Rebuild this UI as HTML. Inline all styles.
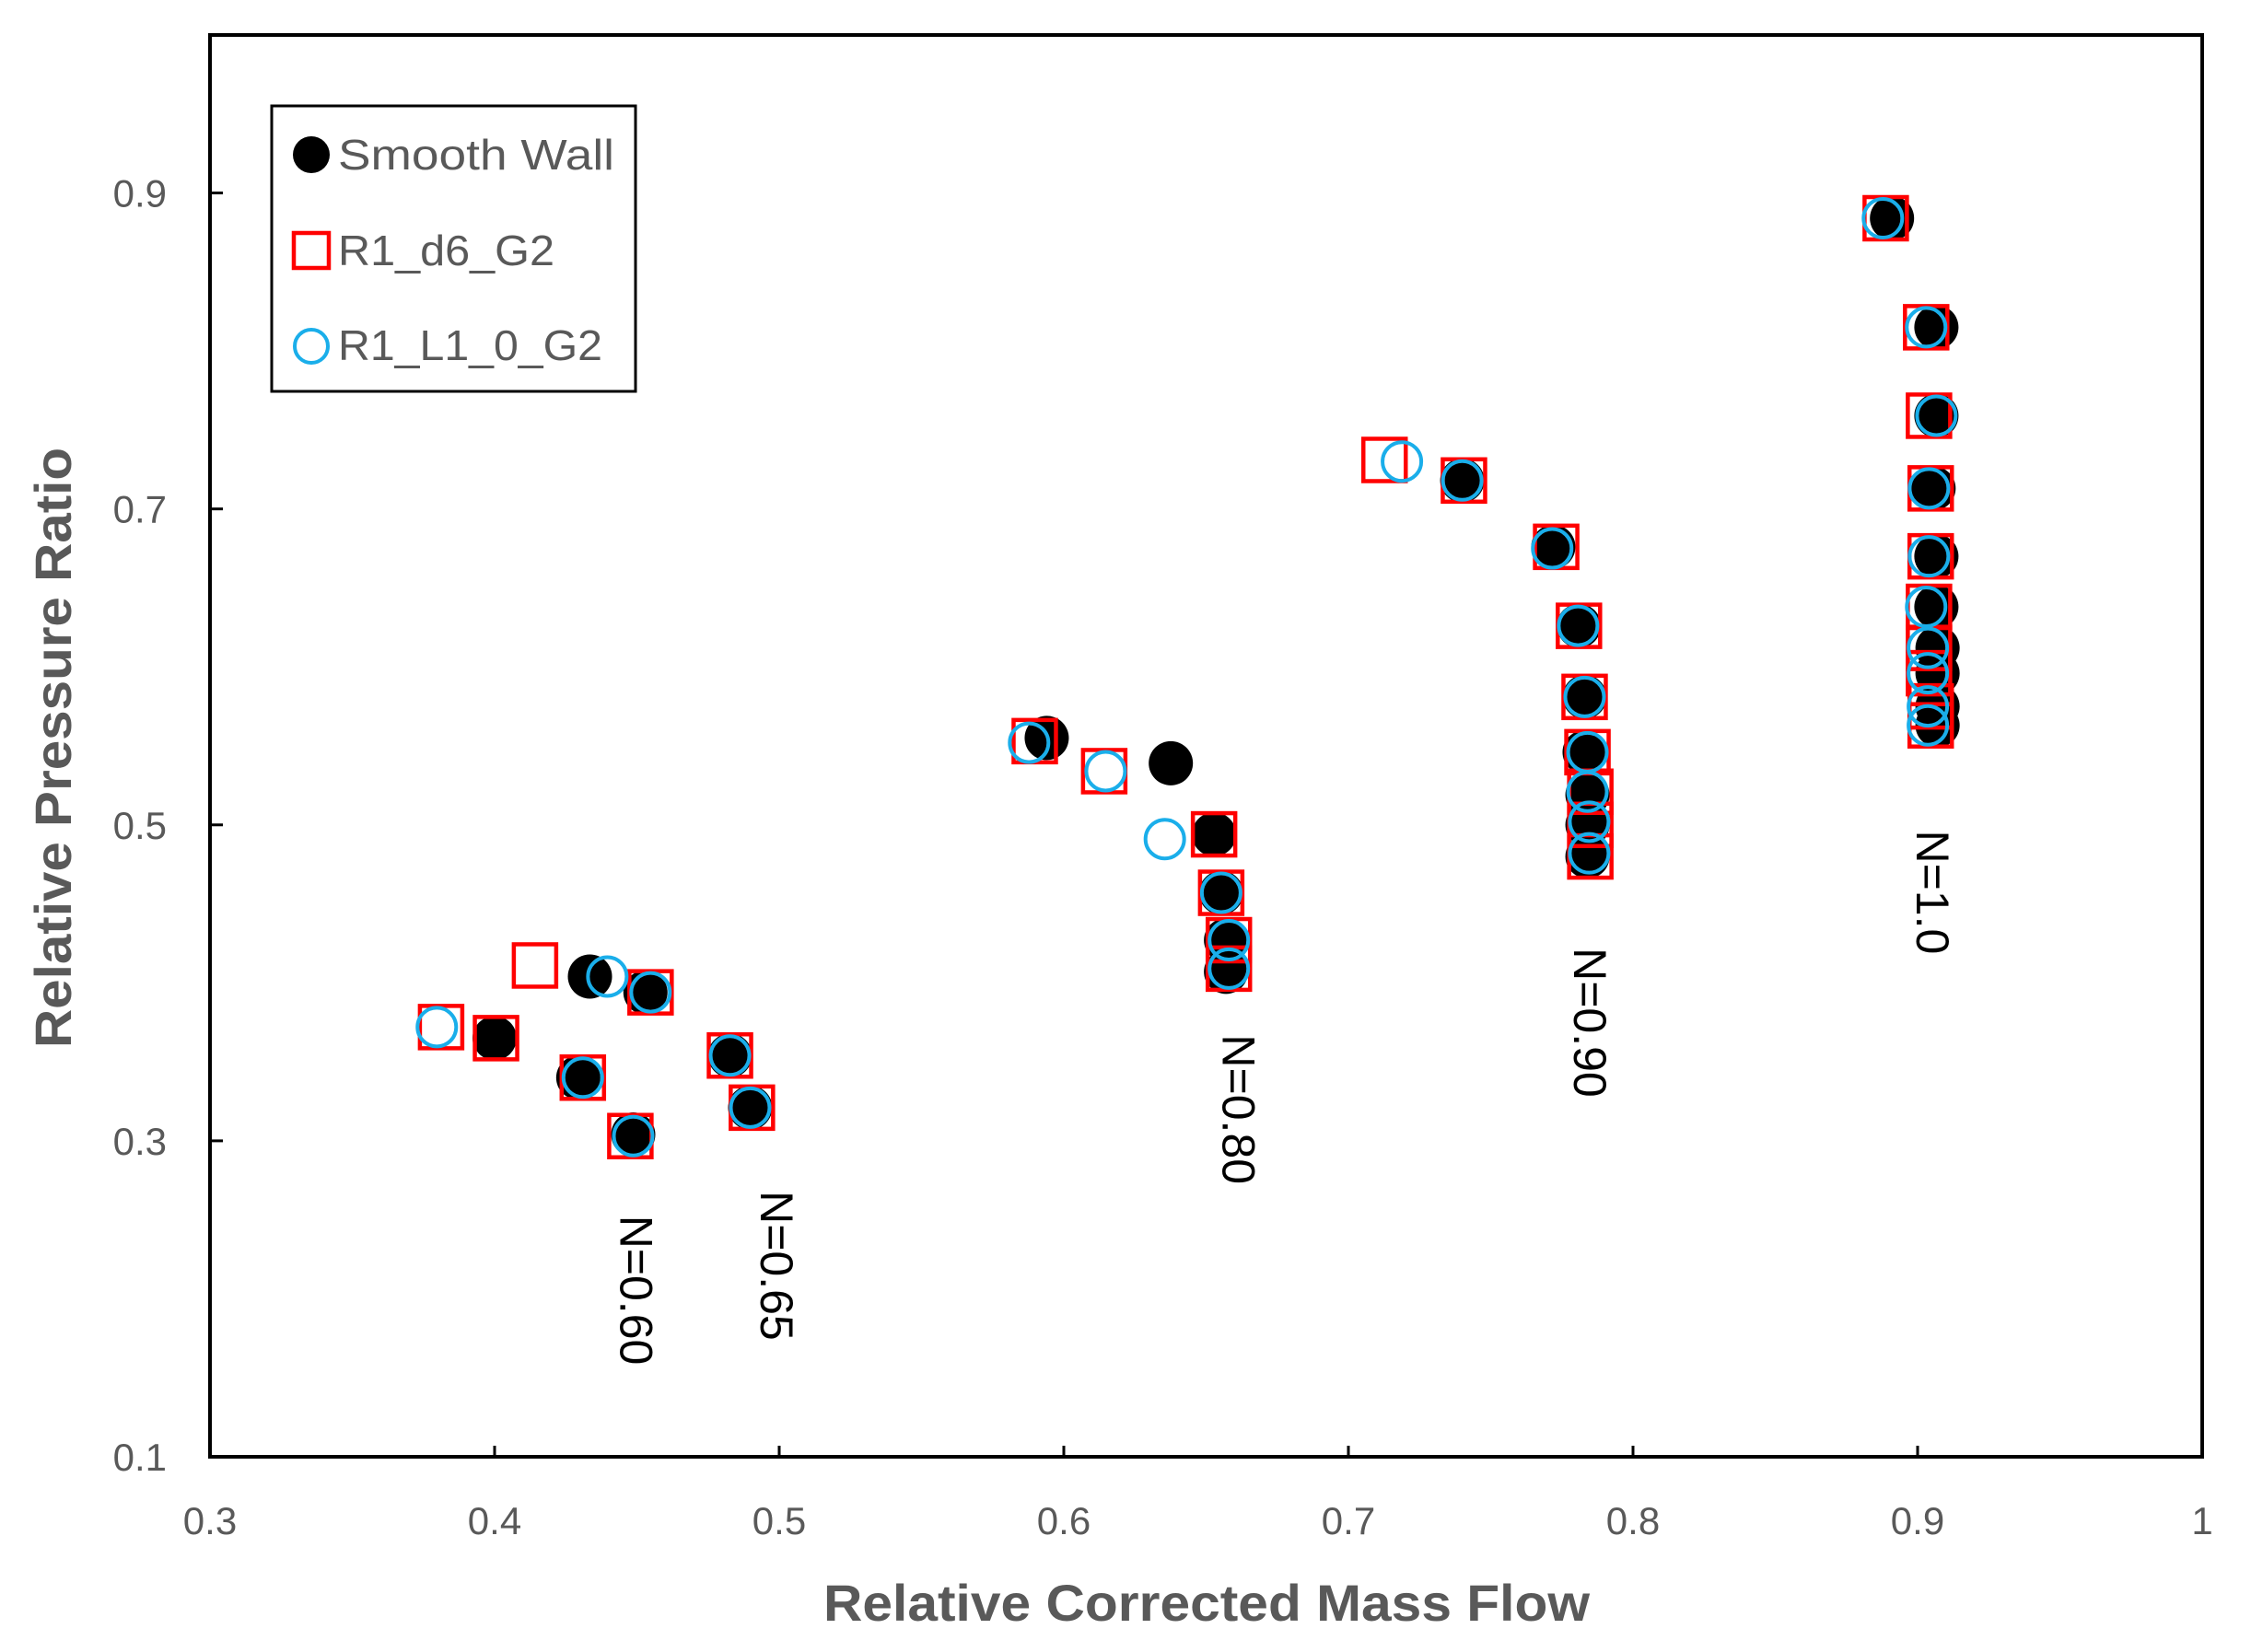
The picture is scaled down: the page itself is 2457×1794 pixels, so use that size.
<!DOCTYPE html>
<html><head><meta charset="utf-8"><style>
html,body{margin:0;padding:0;background:#fff}
svg{display:block}
text{font-family:"Liberation Sans",sans-serif}
</style></head><body>
<svg id="chart" xmlns="http://www.w3.org/2000/svg" width="2457" height="1794" viewBox="0 0 2457 1794">
<rect x="0" y="0" width="2457" height="1794" fill="#fff"/>
<g id="ticks"></g>
<g id="marks"></g>
<rect x="228" y="38" width="2163" height="1544" fill="none" stroke="#000" stroke-width="4"/>
<g id="annots"></g>
<text x="1310" y="1760" text-anchor="middle" font-size="56" font-weight="bold" fill="#595959" textLength="832" lengthAdjust="spacingAndGlyphs">Relative Corrected Mass Flow</text>
<text transform="translate(77,812) rotate(-90)" text-anchor="middle" font-size="56" font-weight="bold" fill="#595959" textLength="652" lengthAdjust="spacingAndGlyphs">Relative Pressure Ratio</text>
<g>
<rect x="295" y="115" width="395" height="310" fill="#fff" stroke="#000" stroke-width="3"/>
<circle cx="338" cy="168" r="20" fill="#000"/>
<text x="367" y="184" font-size="46" fill="#595959" textLength="300" lengthAdjust="spacingAndGlyphs">Smooth Wall</text>
<rect x="319" y="253" width="38" height="38" fill="none" stroke="#f00" stroke-width="4.5"/>
<text x="367" y="288" font-size="46" fill="#595959" textLength="235" lengthAdjust="spacingAndGlyphs">R1_d6_G2</text>
<circle cx="338" cy="376" r="18" fill="none" stroke="#1aaeea" stroke-width="4"/>
<text x="367" y="391" font-size="46" fill="#595959" textLength="287" lengthAdjust="spacingAndGlyphs">R1_L1_0_G2</text>
</g>
</svg>
<script>
const xTicks = ["0.3","0.4","0.5","0.6","0.7","0.8","0.9","1"];
const yTicks = ["0.1","0.3","0.5","0.7","0.9"];
const smoothX = [0.400,0.4294,0.4335,0.453,0.4487,0.4827,0.4898, 0.594,0.6376,0.6528,0.6553,0.657,0.657, 0.740,0.772,0.781,0.783,0.783,0.784,0.784,0.784, 0.891,0.9066,0.9066,0.9056,0.9066,0.9066,0.907,0.907,0.907,0.907];
const smoothY = [0.365,0.340,0.404,0.394,0.304,0.354,0.321, 0.555,0.539,0.494,0.457,0.427,0.407, 0.718,0.676,0.626,0.581,0.546,0.519,0.500,0.480, 0.884,0.815,0.759,0.713,0.670,0.638,0.612,0.596,0.575,0.563];
const d6X = [0.3812,0.4005,0.4142,0.431,0.4548,0.4477,0.4827,0.4904, 0.5898,0.6142,0.6528,0.6553,0.658,0.658, 0.7127,0.7406,0.773,0.781,0.783,0.784,0.785,0.785,0.785, 0.8888,0.903,0.904,0.9046,0.9046,0.904,0.904,0.904,0.9046,0.9046];
const d6Y = [0.372,0.365,0.411,0.340,0.394,0.303,0.354,0.321, 0.553,0.534,0.494,0.457,0.427,0.409, 0.731,0.718,0.676,0.626,0.581,0.546,0.521,0.500,0.480, 0.884,0.815,0.759,0.713,0.670,0.638,0.612,0.596,0.575,0.563];
const l1X = [0.3797,0.431,0.4396,0.4548,0.4487,0.4827,0.4898, 0.5878,0.6147,0.6355,0.6553,0.658,0.658, 0.7188,0.740,0.7716,0.7807,0.783,0.784,0.784,0.7846,0.7846, 0.8878,0.903,0.9066,0.904,0.904,0.903,0.9036,0.9036,0.9036,0.9036];
const l1Y = [0.372,0.340,0.404,0.394,0.303,0.354,0.321, 0.552,0.534,0.491,0.457,0.427,0.409, 0.730,0.718,0.675,0.626,0.581,0.546,0.521,0.502,0.482, 0.884,0.815,0.759,0.713,0.670,0.638,0.612,0.596,0.575,0.563];
const annotLabels = ["N=0.60","N=0.65","N=0.80","N=0.90","N=1.0"];
const annotX = [0.4497,0.4990,0.6614,0.7848,0.9051];
const annotY = [0.2055,0.2210,0.3199,0.3749,0.4574];

const NS="http://www.w3.org/2000/svg";
const L=228,R=2391,T=38,B=1582, X0=0.3,X1=1.0,Y0=0.1,Y1=1.0;
function sx(v){return L+(v-X0)/(X1-X0)*(R-L);}
function sy(v){return B-(v-Y0)/(Y1-Y0)*(B-T);}
function mk(tag,attrs,parent){const e=document.createElementNS(NS,tag);for(const k in attrs)e.setAttribute(k,attrs[k]);parent.appendChild(e);return e;}
const tg=document.getElementById('ticks'), mg=document.getElementById('marks'), ag=document.getElementById('annots');
xTicks.forEach(t=>{const x=sx(parseFloat(t));
 const l=mk('line',{x1:x,x2:x,y1:B,y2:B-12,stroke:'#000','stroke-width':3},tg);
 
 
 const tx=mk('text',{x:x,y:1666,'text-anchor':'middle','font-size':42,fill:'#595959'},tg);
 tx.textContent=t;
 
 
});
yTicks.forEach(t=>{const y=sy(parseFloat(t));
 const l=mk('line',{x1:L,x2:L+14,y1:y,y2:y,stroke:'#000','stroke-width':3},tg);
 
 
 const tx=mk('text',{x:181,y:y+15,'text-anchor':'end','font-size':42,fill:'#595959'},tg);
 tx.textContent=t;
 
 
});
smoothX.forEach((v,i)=>{
 const c=mk('circle',{cx:sx(v),cy:sy(smoothY[i]),r:24,fill:'#000'},mg);
 
 
});
d6X.forEach((v,i)=>{
 const r=mk('rect',{x:sx(v)-23,y:sy(d6Y[i])-23,width:46,height:46,fill:'none',stroke:'#f00','stroke-width':4.5},mg);
 
 
});
l1X.forEach((v,i)=>{
 const c=mk('circle',{cx:sx(v),cy:sy(l1Y[i]),r:21,fill:'none',stroke:'#1aaeea','stroke-width':4},mg);
 
 
});
annotLabels.forEach((s,i)=>{
 const x=sx(annotX[i]), y=sy(annotY[i]);
 const t=mk('text',{transform:`translate(${x},${y}) rotate(90)`,'text-anchor':'middle',y:17,'font-size':50,fill:'#000'},ag);
 t.textContent=s;
 
 
});
</script>
</body></html>
